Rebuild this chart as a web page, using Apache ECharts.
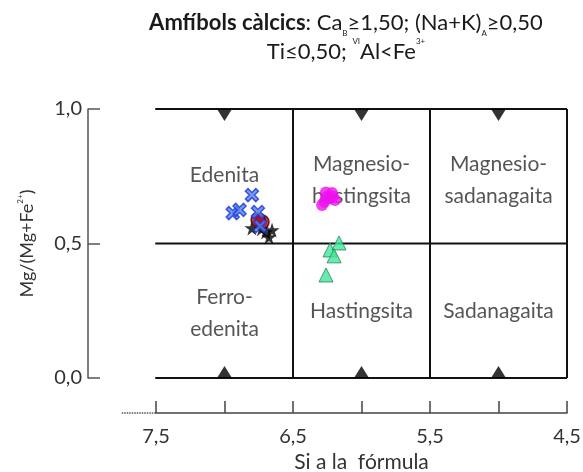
<!DOCTYPE html>
<html>
<head>
<meta charset="utf-8">
<script src="https://cdn.jsdelivr.net/npm/echarts@6/dist/echarts.min.js"></script>
<style>
  html, body { margin: 0; padding: 0; background: #fff; }
  #chart { width: 583px; height: 472px; }
</style>
</head>
<body>
<div id="chart"></div>
<script>
// Classification boundaries of the calcic amphibole diagram
const siBoundaries = [6.5, 5.5, 4.5];
const mgBoundaries = [1.0, 0.5, 0.0];
const triangleSi = [7.0, 6.0, 5.0];
const leftStubSi = 7.75;

// Field names: [Si, Mg/(Mg+Fe2+), name]
const fieldLabels = [
  [7.0, 0.755, 'Edenita'],
  [7.0, 0.24, 'Ferro-\nedenita'],
  [6.0, 0.735, 'Magnesio-\nhastingsita'],
  [5.0, 0.735, 'Magnesio-\nsadanagaita'],
  [6.0, 0.25, 'Hastingsita'],
  [5.0, 0.25, 'Sadanagaita']
];

// Analyses: [Si apfu, Mg/(Mg+Fe2+)]
const starPoints = [[6.80, 0.558], [6.70, 0.543], [6.675, 0.524], [6.653, 0.55], [6.73, 0.555]];
const redPoints = [[6.726, 0.58], [6.755, 0.587]];
const crossPoints = [[6.80, 0.68], [6.94, 0.613], [6.89, 0.625], [6.756, 0.617], [6.74, 0.565]];
const magentaPoints = [[6.288, 0.643], [6.252, 0.673], [6.215, 0.688], [6.193, 0.662], [6.27, 0.655], [6.23, 0.668], [6.21, 0.675], [6.26, 0.69]];
const greenPoints = [[6.23, 0.476], [6.164, 0.502], [6.20, 0.454], [6.259, 0.383]];

const xTickLabels = ['7,5', '6,5', '5,5', '4,5'];
const yTickLabels = ['0,0', '0,5', '1,0'];

const FONT = 'Lato, "Open Sans", sans-serif';
const INK = '#333';

const fmt = v => v.toFixed(1).replace('.', ',');

// Frame: horizontal boundaries across the field, vertical Si boundaries
const frameSeries = [];
mgBoundaries.forEach(m => {
  frameSeries.push({
    type: 'line', silent: true, symbol: 'none', clip: false, z: 3,
    lineStyle: { color: '#111', width: 2 },
    data: [[7.5, m], [4.5, m]]
  });
  frameSeries.push({
    type: 'line', silent: true, symbol: 'none', clip: false, z: 3,
    lineStyle: { color: '#111', width: 2, type: [4, 2] },
    data: [[leftStubSi, m], [7.5, m]]
  });
});
siBoundaries.forEach(s => {
  frameSeries.push({
    type: 'line', silent: true, symbol: 'none', clip: false, z: 3,
    lineStyle: { color: '#111', width: 2 },
    data: [[s, 0], [s, 1]]
  });
});

const downTri = 'path://M0,0 L10,0 L5,8 Z';
const upTri = 'path://M5,0 L10,8 L0,8 Z';
const crossPath = 'path://M2,0 L5,3 L8,0 L10,2 L7,5 L10,8 L8,10 L5,7 L2,10 L0,8 L3,5 L0,2 Z';
const starPath = 'path://M50,0 L61,35 L98,35 L68,57 L79,91 L50,70 L21,91 L32,57 L2,35 L39,35 Z';

const chart = echarts.init(document.getElementById('chart'), null, { renderer: 'canvas' });

const titleBase = { fontFamily: FONT, fontSize: 22, color: '#1a1a1a', fontWeight: 'normal', lineHeight: 29 };

const option = {
  animation: false,
  backgroundColor: '#fff',
  title: {
    left: 341, top: 3, textAlign: 'center',
    text: '{b|Amfíbols càlcics}{n|: Ca}{sub|B}{n|≥1,50; (Na+K)}{sub|A}{n|≥0,50}\n{n|Ti≤0,50; }{sup|VI}{n|Al<Fe}{sup|3+}',
    textStyle: {
      fontWeight: 'normal',
      rich: {
        n: titleBase,
        b: Object.assign({}, titleBase, { fontWeight: 'bold' }),
        sub: { fontFamily: FONT, fontSize: 8, color: '#1a1a1a', fontWeight: 'normal', verticalAlign: 'bottom', lineHeight: 12 },
        sup: { fontFamily: FONT, fontSize: 8, color: '#1a1a1a', fontWeight: 'normal', verticalAlign: 'top', lineHeight: 19 }
      }
    }
  },
  grid: { left: 156, right: 16, top: 109, bottom: 94, outerBoundsMode: 'none', containLabel: false },
  xAxis: {
    type: 'value', inverse: true, min: 4.5, max: 7.5, interval: 0.5,
    offset: 35,
    name: 'Si a la  fórmula', nameLocation: 'middle', nameGap: 30,
    nameTextStyle: { fontFamily: FONT, fontSize: 21, color: INK },
    axisLine: { show: true, onZero: false, lineStyle: { color: '#444', width: 1.5 } },
    axisTick: { show: true, inside: true, length: 12, lineStyle: { color: '#444', width: 1.5 } },
    axisLabel: {
      margin: 14, fontFamily: FONT, fontSize: 20, color: INK, showMaxLabel: true, showMinLabel: true,
      formatter: v => xTickLabels.includes(fmt(v)) ? fmt(v) : ''
    },
    splitLine: { show: false }
  },
  yAxis: {
    type: 'value', min: 0, max: 1, interval: 0.5,
    offset: 68,
    name: '{n|Mg/(Mg+Fe}{sup|2+}{n|)}', nameLocation: 'middle', nameGap: 50, nameRotate: 90,
    nameTextStyle: {
      rich: {
        n: { fontFamily: FONT, fontSize: 18, color: INK, lineHeight: 22 },
        sup: { fontFamily: FONT, fontSize: 8, color: INK, verticalAlign: 'top', lineHeight: 13 }
      }
    },
    axisLine: { show: true, onZero: false, lineStyle: { color: '#555', width: 1.5 } },
    axisTick: { show: true, inside: true, length: 12, lineStyle: { color: '#555', width: 1.5 } },
    axisLabel: {
      margin: 6, fontFamily: FONT, fontSize: 20, color: INK,
      formatter: v => yTickLabels.includes(fmt(v)) ? fmt(v) : ''
    },
    splitLine: { show: false }
  },
  series: [
    ...frameSeries,
    {
      type: 'scatter', silent: true, z: 4,
      symbol: downTri, symbolSize: [15, 12], symbolOffset: [0, 6],
      itemStyle: { color: '#000' },
      data: triangleSi.map(s => [s, 1.0])
    },
    {
      type: 'scatter', silent: true, z: 4,
      symbol: upTri, symbolSize: [15, 12], symbolOffset: [0, -6],
      itemStyle: { color: '#000' },
      data: triangleSi.map(s => [s, 0.0])
    },
    {
      type: 'scatter', silent: true, z: 5, symbolSize: 0,
      label: {
        show: true, position: 'inside', align: 'center', verticalAlign: 'middle',
        fontFamily: FONT, fontSize: 21, color: '#2a2a2a', lineHeight: 32,
        formatter: p => p.data[2]
      },
      data: fieldLabels
    },
    {
      type: 'scatter', z: 6, symbol: starPath, symbolSize: 15,
      itemStyle: { color: '#000' },
      data: starPoints
    },
    {
      type: 'scatter', z: 7, symbol: 'circle', symbolSize: 14,
      itemStyle: { color: '#c00010', borderColor: '#400', borderWidth: 1.5 },
      data: redPoints
    },
    {
      type: 'scatter', z: 8, symbol: crossPath, symbolSize: 13,
      itemStyle: { color: '#5580f2', borderColor: '#1a38d0', borderWidth: 1.5 },
      data: crossPoints
    },
    {
      type: 'scatter', z: 8, symbol: 'circle', symbolSize: 12,
      itemStyle: { color: '#ee10ee' },
      data: magentaPoints
    },
    {
      type: 'scatter', z: 8, symbol: 'triangle', symbolSize: 14,
      itemStyle: { color: '#44e59c', borderColor: '#1f8a55', borderWidth: 1 },
      data: greenPoints
    }
  ]
};

chart.setOption(option);

// Dotted lead-in on the left of the Si axis
const pLeft = chart.convertToPixel({ gridIndex: 0 }, [leftStubSi, 0]);
const pStart = chart.convertToPixel({ gridIndex: 0 }, [7.5, 0]);
const axisY = pStart[1] + 35;
chart.setOption({
  graphic: [{
    type: 'line', silent: true,
    shape: { x1: pLeft[0], y1: axisY, x2: pStart[0], y2: axisY },
    style: { stroke: '#555', lineWidth: 1.5, lineDash: [1.5, 1] }
  }]
});
</script>
</body>
</html>
